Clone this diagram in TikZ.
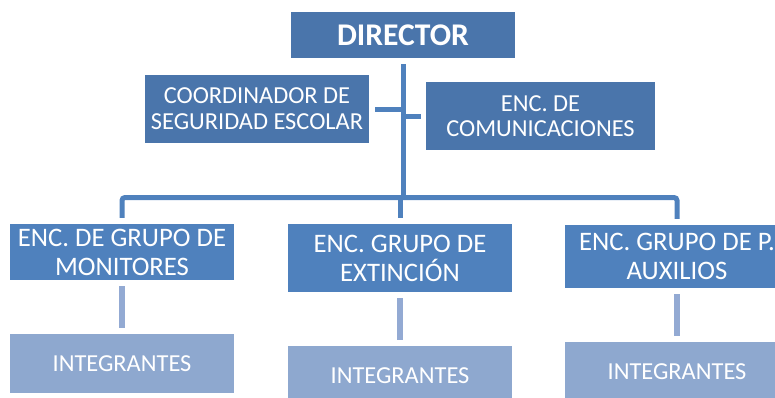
\documentclass[tikz,border=0pt]{standalone}
\usepackage{fontspec}
\setmainfont{Carlito}
\usepackage{tikz}
\usetikzlibrary{calc}

\definecolor{darkblue}{HTML}{4A75AB}
\definecolor{midblue}{HTML}{4F81BD}
\definecolor{lightblue}{HTML}{8EA8CF}
\definecolor{linkblue}{HTML}{93AAD3}

\begin{document}
\begin{tikzpicture}[x=1bp,y=-1bp,
    headbox/.style={rectangle,fill=darkblue,text=white,inner sep=0pt,minimum width=224bp,align=center,font=\fontsize{24.5}{26}\selectfont},
    groupbox/.style={rectangle,fill=midblue,text=white,inner sep=0pt,minimum width=224bp,align=center,font=\fontsize{26.8}{29}\selectfont},
    memberbox/.style={rectangle,fill=lightblue,text=white,inner sep=0pt,minimum width=224bp,minimum height=59bp,font=\fontsize{24.5}{28}\selectfont},
    tline/.style={draw=midblue,line width=5bp},
    mline/.style={draw=linkblue,line width=6bp,shorten <=6bp,shorten >=6bp}]
    \useasboundingbox (0,0) rectangle (775,397);
    \node[headbox,minimum height=46bp,font=\bfseries\fontsize{31.7}{34}\selectfont] (director) at (403,35) {DIRECTOR};
    \node[headbox,minimum height=68bp] (coord) at (257,109) {COORDINADOR DE\\SEGURIDAD ESCOLAR};
    \node[headbox,minimum width=229bp,minimum height=68bp,font=\fontsize{24.5}{25.5}\selectfont] (comun) at (540.5,116) {ENC. DE\\COMUNICACIONES};
    \node[groupbox,minimum height=56bp] (monit) at (122,252) {ENC. DE GRUPO DE\\MONITORES};
    \node[groupbox,minimum height=68bp] (extin) at (400,258) {ENC. GRUPO DE\\EXTINCIÓN};
    \node[groupbox,minimum height=63bp] (auxil) at (677,256.5) {ENC. GRUPO DE P.\\AUXILIOS};
    \node[memberbox] (integ1) at (122,363.5) {INTEGRANTES};
    \node[memberbox] (integ2) at (400,375.5) {INTEGRANTES};
    \node[memberbox] (integ3) at (677,371.5) {INTEGRANTES};
    \coordinate (hub) at (403,197.5);
    \draw[tline,shorten <=6bp] (director) -- (hub);
    \draw[tline,shorten <=6bp] (coord) -- (coord -| hub);
    \draw[tline,shorten <=5bp] (comun) -- (comun -| hub);
    \draw[tline,rounded corners=3bp,shorten <=6bp,shorten >=6bp] (monit) |- (hub) -| (auxil);
    \draw[tline,shorten <=6bp] (extin) -- (extin |- hub);
    \foreach \grp/\mem in {monit/integ1,extin/integ2,auxil/integ3}
        \draw[mline] (\grp) -- (\mem);
\end{tikzpicture}
\end{document}
